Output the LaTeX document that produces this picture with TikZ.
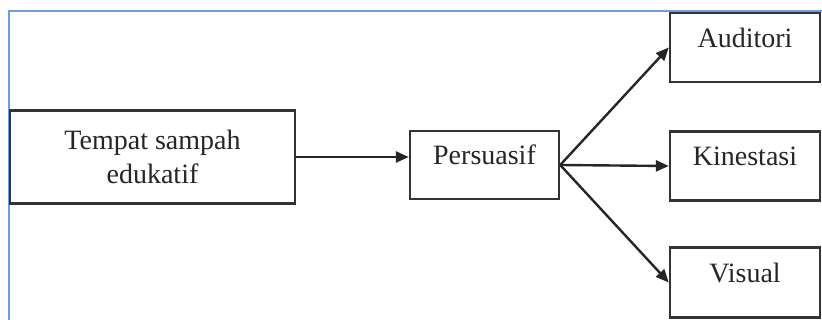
\documentclass[tikz,border=0pt]{standalone}
\usepackage{fontspec}
\setmainfont{Liberation Serif}
\usetikzlibrary{arrows.meta}
\definecolor{framblue}{RGB}{106,160,222}
\tikzset{
  box/.style={draw=black!80, line width=2.4pt, fill=white, inner sep=0pt,
    font=\fontsize{28}{34}\selectfont, text=black!85},
  onebox/.style={box, text height=12pt, text depth=12pt},
  conn/.style={line width=2.4pt, draw=black!85, -{Triangle[length=13pt,width=11pt]}},
}
\begin{document}
\begin{tikzpicture}[x=1pt,y=-1pt]
\useasboundingbox (0,0) rectangle (822,320);
\fill[white] (0,0) rectangle (822,320);
\draw[framblue, line width=2.2pt] (9,320) -- (9,11) -- (822,11);
\node[box, minimum width=285pt, minimum height=93pt, align=center] (tempat) at (152.5,157) {Tempat sampah\\edukatif};
\node[onebox, minimum width=149pt, minimum height=68pt] (pers) at (484.5,165) {Persuasif};
\node[onebox, minimum width=150pt, minimum height=69pt] (aud) at (745,47.5) {Auditori};
\node[onebox, minimum width=150pt, minimum height=69pt] (kin) at (745,166) {Kinestasi};
\node[onebox, minimum width=150pt, minimum height=70pt] (vis) at (745,282.5) {Visual};
\draw[conn] (tempat.east) -- (tempat.east -| pers.west);
\draw[conn] (pers.east) -- (aud.west);
\draw[conn] (pers.east) -- (kin.west);
\draw[conn] (pers.east) -- (vis.west);
\end{tikzpicture}
\end{document}
